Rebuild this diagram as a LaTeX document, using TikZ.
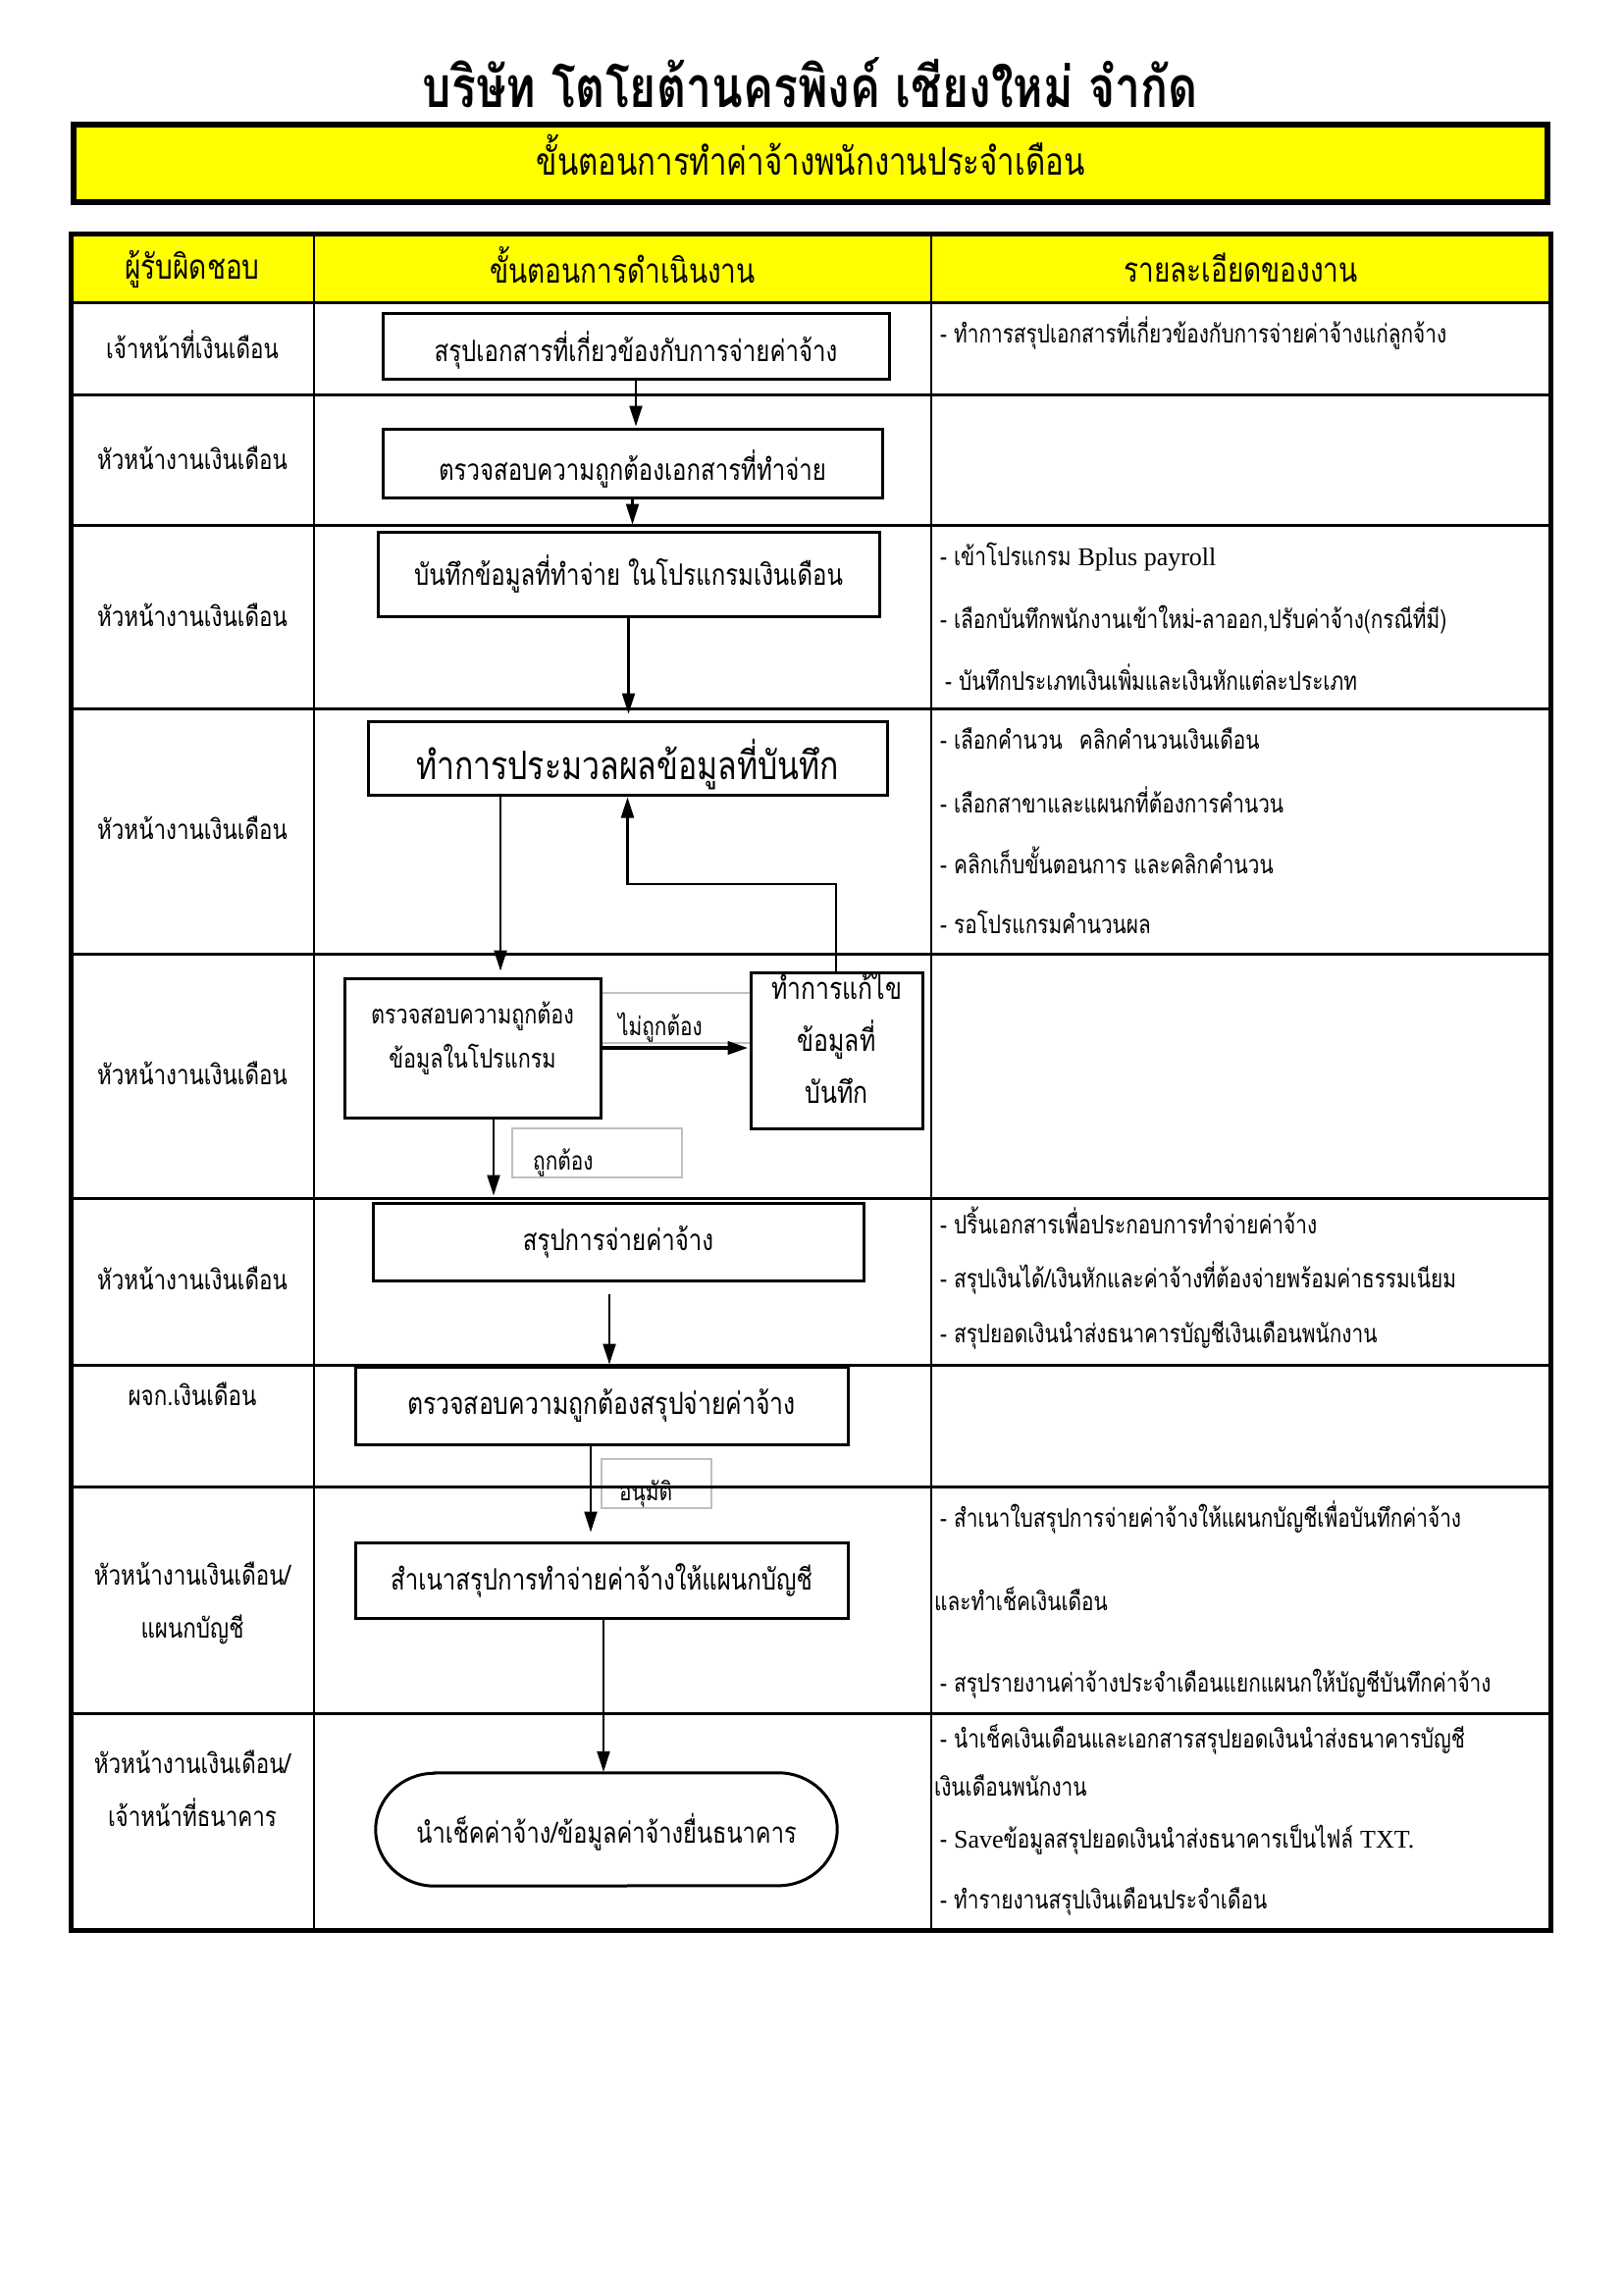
\documentclass[tikz,border=0pt]{standalone}
\usepackage{fontspec}
\usetikzlibrary{arrows.meta}
\setmainfont{Loma}[Script=Thai]
\newfontfamily\thn{Loma}[Script=Thai,FakeStretch=0.8]
\newfontfamily\lat{Liberation Serif}
\definecolor{bannerYellow}{HTML}{FFFF00}
\definecolor{tagGray}{HTML}{BFBFBF}
\newcommand\tsz[2]{\fontsize{#1}{#2}\selectfont}
% move a text block vertically inside its node, keeping the node size
\newcommand\nudge[2]{\raisebox{#1}[\height][\depth]{#2}}
\newcommand\lines[1]{\begin{tabular}{@{}c@{}}#1\end{tabular}}
\begin{document}
\begin{tikzpicture}[x=1pt,y=-1pt,
  every node/.style={font=\thn},
  box/.style={draw, line width=3pt, inner sep=0pt, align=center, fill=white},
  arr/.style={line width=2.2pt, -{Triangle[length=21pt,width=13pt]}, shorten >=6pt},
  tag/.style={draw=tagGray, line width=2pt, inner sep=0pt},
  rowline/.style={line width=3pt},
  head/.style={inner sep=0pt, font=\thn\tsz{35}{38}},
  who/.style={align=center, inner sep=0pt, font=\thn\tsz{28}{54}},
  note/.style={anchor=west, inner sep=0pt, font=\thn\tsz{26}{30}},
  tagtext/.style={anchor=west, inner sep=0pt, font=\thn\tsz{26}{30}}
]
\useasboundingbox (0,0) rectangle (1654,2339);

% heading
\node[font=\thn\bfseries\tsz{58}{62}] (title) at (826,84.5) {บริษัท โตโยต้านครพิงค์ เชียงใหม่ จำกัด};
\node[draw, line width=6pt, fill=bannerYellow, minimum width=1502pt, minimum height=79pt,
      font=\thn\tsz{39}{44}] (banner) at (826,166.5) {\nudge{9pt}{ขั้นตอนการทำค่าจ้างพนักงานประจำเดือน}};

% decision labels
\node[tag, minimum width=153pt, minimum height=51pt] (tagno) at (688.5,1037.5) {};
\node[tagtext] (tagnotext) at (630,1047) {ไม่ถูกต้อง};
\node[tag, minimum width=173pt, minimum height=50pt] (tagok) at (608.5,1175) {};
\node[tagtext] (tagoktext) at (543,1185) {ถูกต้อง};
\node[tag, minimum width=112pt, minimum height=50pt] (tagap) at (669,1512) {};
\node[tagtext] (tagaptext) at (631,1522) {อนุมัติ};

% table
\fill[bannerYellow] (72,238) rectangle (1580,308);
\foreach \yy in {308,402,535,722,972,1221,1391,1515,1746}
  \draw[rowline] (72,\yy) -- (1580,\yy);
\draw[line width=2pt] (320,238) -- (320,1967);
\draw[line width=2pt] (949,238) -- (949,1967);
\draw[line width=5pt] (72,238) rectangle (1580,1967);

\node[head] (h1) at (196,274) {ผู้รับผิดชอบ};
\node[head] (h2) at (634.5,270) {ขั้นตอนการดำเนินงาน};
\node[head] (h3) at (1264.5,273) {รายละเอียดของงาน};

% responsible persons
\node[who] (w1) at (196,351) {เจ้าหน้าที่เงินเดือน};
\node[who] (w2) at (196,467) {หัวหน้างานเงินเดือน};
\node[who] (w3) at (196,627) {หัวหน้างานเงินเดือน};
\node[who] (w4) at (196,844) {หัวหน้างานเงินเดือน};
\node[who] (w5) at (196,1094) {หัวหน้างานเงินเดือน};
\node[who] (w6) at (196,1303) {หัวหน้างานเงินเดือน};
\node[who] (w7) at (196,1421) {ผจก.เงินเดือน};
\node[who] (w8) at (196,1634) {หัวหน้างานเงินเดือน/\\แผนกบัญชี};
\node[who] (w9) at (196,1823) {หัวหน้างานเงินเดือน/\\เจ้าหน้าที่ธนาคาร};

% work details
\node[note] (n1) at (958,340) {- ทำการสรุปเอกสารที่เกี่ยวข้องกับการจ่ายค่าจ้างแก่ลูกจ้าง};
\node[note] (n3a) at (958,568) {- เข้าโปรแกรม {\lat Bplus payroll}};
\node[note] (n3b) at (958,630) {- เลือกบันทึกพนักงานเข้าใหม่-ลาออก,ปรับค่าจ้าง(กรณีที่มี)};
\node[note] (n3c) at (963,690) {- บันทึกประเภทเงินเพิ่มและเงินหักแต่ละประเภท};
\node[note] (n4a) at (958,753) {- เลือกคำนวน\hspace{10pt} คลิกคำนวนเงินเดือน};
\node[note] (n4b) at (958,815) {- เลือกสาขาและแผนกที่ต้องการคำนวน};
\node[note] (n4c) at (958,877) {- คลิกเก็บขั้นตอนการ และคลิกคำนวน};
\node[note] (n4d) at (958,940) {- รอโปรแกรมคำนวนผล};
\node[note] (n6a) at (958,1244) {- ปริ้นเอกสารเพื่อประกอบการทำจ่ายค่าจ้าง};
\node[note] (n6b) at (958,1303) {- สรุปเงินได้/เงินหักและค่าจ้างที่ต้องจ่ายพร้อมค่าธรรมเนียม};
\node[note] (n6c) at (958,1361) {- สรุปยอดเงินนำส่งธนาคารบัญชีเงินเดือนพนักงาน};
\node[note] (n8a) at (958,1547) {- สำเนาใบสรุปการจ่ายค่าจ้างให้แผนกบัญชีเพื่อบันทึกค่าจ้าง};
\node[note] (n8b) at (952,1630) {และทำเช็คเงินเดือน};
\node[note] (n8c) at (958,1716) {- สรุปรายงานค่าจ้างประจำเดือนแยกแผนกให้บัญชีบันทึกค่าจ้าง};
\node[note] (n9a) at (958,1773) {- นำเช็คเงินเดือนและเอกสารสรุปยอดเงินนำส่งธนาคารบัญชี};
\node[note] (n9b) at (952,1820) {เงินเดือนพนักงาน};
\node[note] (n9c) at (958,1875) {- {\lat Save}ข้อมูลสรุปยอดเงินนำส่งธนาคารเป็นไฟล์ {\lat TXT.}};
\node[note] (n9d) at (958,1938) {- ทำรายงานสรุปเงินเดือนประจำเดือน};

% process steps
\node[box, minimum width=516pt, minimum height=67pt, font=\thn\tsz{30}{34}] (b1) at (648,352.5) {\nudge{-4pt}{สรุปเอกสารที่เกี่ยวข้องกับการจ่ายค่าจ้าง}};
\node[box, minimum width=509pt, minimum height=70pt, font=\thn\tsz{30}{34}] (b2) at (644.5,472) {\nudge{-6pt}{ตรวจสอบความถูกต้องเอกสารที่ทำจ่าย}};
\node[box, minimum width=511pt, minimum height=86pt, font=\thn\tsz{30}{34}] (b3) at (640.5,585) {บันทึกข้อมูลที่ทำจ่าย ในโปรแกรมเงินเดือน};
\node[box, minimum width=529pt, minimum height=75pt, font=\thn\tsz{40}{46}] (b4) at (639.5,772.5) {\nudge{-7pt}{ทำการประมวลผลข้อมูลที่บันทึก}};
\node[box, minimum width=261pt, minimum height=142pt, font=\thn\tsz{27}{45}] (b5) at (481.5,1068) {\nudge{11pt}{\lines{ตรวจสอบความถูกต้อง\\ข้อมูลในโปรแกรม}}};
\node[box, minimum width=175pt, minimum height=159pt, font=\thn\tsz{31}{53}] (b6) at (852.5,1070.5) {\nudge{9.5pt}{\lines{ทำการแก้ไข\\ข้อมูลที่\\บันทึก}}};
\node[box, minimum width=500pt, minimum height=79pt, font=\thn\tsz{30}{34}] (b7) at (630,1265.5) {สรุปการจ่ายค่าจ้าง};
\node[box, minimum width=502pt, minimum height=79pt, font=\thn\tsz{31}{34}] (b8) at (613,1432.5) {ตรวจสอบความถูกต้องสรุปจ่ายค่าจ้าง};
\node[box, minimum width=502pt, minimum height=77pt, font=\thn\tsz{30}{34}] (b9) at (613,1610.5) {สำเนาสรุปการทำจ่ายค่าจ้างให้แผนกบัญชี};
\node[inner sep=0pt, minimum width=470pt, minimum height=115pt, font=\thn\tsz{29.5}{34}] (b10) at (618,1864.5) {\nudge{-3pt}{นำเช็คค่าจ้าง/ข้อมูลค่าจ้างยื่นธนาคาร}};
\draw[line width=3pt] ([xshift=60pt]b10.north west) -- ([xshift=-60pt]b10.north east)
  arc[start angle=90, end angle=-90, x radius=60pt, y radius=57.5pt]
  -- ([xshift=60pt]b10.south west)
  arc[start angle=270, end angle=90, x radius=60pt, y radius=57.5pt] -- cycle;

% links between steps
\coordinate (k4) at (510,0);
\coordinate (kf) at (0,1068);
\coordinate (kr) at (852,901);
\coordinate (k5) at (503,0);
\coordinate (k7) at (621,0);
\coordinate (k8) at (602,0);
\coordinate (k9) at (615,0);
\draw[arr, shorten >=1pt] (b1.south) -- (b1.south |- b2.north);
\draw[arr] (b2.south) -- (b2.south |- b3.north);
\draw[arr] (b3.south) -- (b3.south |- b4.north);
\draw[arr] (b4.south -| k4) -- (b5.north -| k4);
\draw[arr, line width=4pt, shorten >=1pt] (b5.east |- kf) -- (b6.west |- kf);
\draw[arr, shorten >=1pt] (b6.north -| kr) -- (kr) -- (kr -| b4.south) -- (b4.south);
\draw[arr] (b5.south -| k5) -- (b7.north -| k5);
\draw[arr, shorten <=12pt, shorten >=1pt] (b7.south -| k7) -- (b8.north -| k7);
\draw[arr, shorten >=9pt] (b8.south -| k8) -- (b9.north -| k8);
\draw[arr, shorten >=1pt] (b9.south -| k9) -- (b10.north -| k9);
\end{tikzpicture}
\end{document}
